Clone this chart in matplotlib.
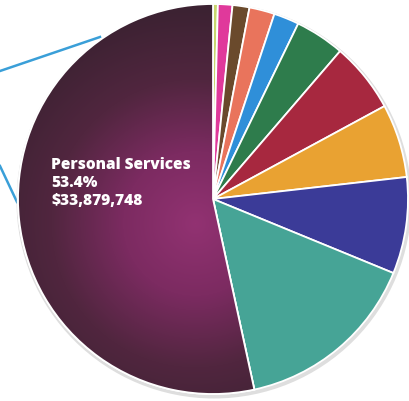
import numpy as np
import matplotlib.pyplot as plt
from matplotlib.colors import LinearSegmentedColormap
from matplotlib.patches import Circle, Wedge

# slices clockwise from 12 o'clock (percent of budget)
shares = [0.4, 1.2, 1.4, 2.1, 2.1, 4.1, 5.8, 6.1, 8.0, 15.4, 53.4]
colors = ['#c9d66e', '#e0399b', '#6a4a2c', '#e9745c', '#2f8fd9', '#2e7c4c',
          '#a7283f', '#e9a232', '#3b3b98', '#46a496', '#6e2856']
label = "Personal Services\n53.4%\n$33,879,748"

W, H = 409, 402
fig = plt.figure(figsize=(W / 100, H / 100), dpi=100)
ax = fig.add_axes([0, 0, 1, 1])

cx, cy, r = 213, H - 200, 195

# connector lines coming from the left
ax.plot([0, 100], [H - 72, H - 38], color='#3a9fd8', lw=1.8, zorder=1)
ax.plot([0, 17], [H - 167, H - 203], color='#3a9fd8', lw=1.8, zorder=1)

# soft shadow
ax.add_patch(Circle((cx + 1, cy - 2), r + 2.5, color='#c8c8c8', alpha=0.6, zorder=2, lw=0))

wedges, _ = ax.pie(shares, colors=colors, startangle=90, counterclock=False,
                   center=(cx, cy), radius=r, frame=True,
                   wedgeprops=dict(edgecolor='white', linewidth=1.3))
for w in wedges:
    w.set_zorder(3)
ax.set_xlim(0, W)
ax.set_ylim(0, H)
ax.set_aspect('equal')
ax.axis('off')

# radial gradient on the big slice
yy, xx = np.mgrid[0:H, 0:W]
d = np.hypot(xx - 195, (H - yy) - 178) / 215
cmap = LinearSegmentedColormap.from_list('m', ['#923272', '#7c2b61', '#51263f', '#3c2232'])
img = ax.imshow(np.clip(d, 0, 1), cmap=cmap, extent=(0, W, 0, H), origin='upper',
                zorder=4, interpolation='bilinear', vmin=0, vmax=1)
img.set_clip_path(wedges[-1])
big = wedges[-1]
ax.add_patch(Wedge((cx, cy), r, big.theta1, big.theta2,
                   fill=False, edgecolor='white', lw=1.3, zorder=5))
ax.set_xlim(0, W)
ax.set_ylim(0, H)

ax.text(51, H - 157, label, color='white', fontsize=11.2, fontweight='heavy',
        family='Open Sans', va='top', ha='left', linespacing=1.15, zorder=6)

fig.savefig('out.png', dpi=100)
